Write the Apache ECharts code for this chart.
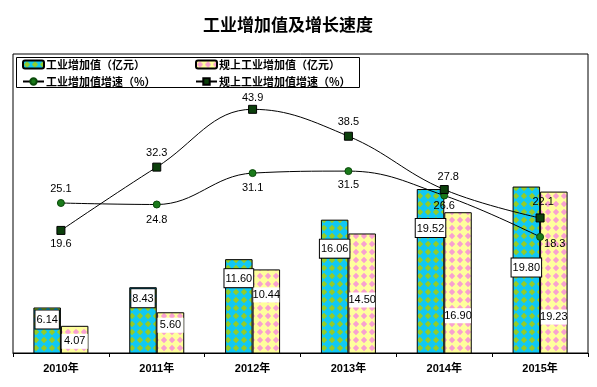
<!DOCTYPE html>
<html>
<head>
<meta charset="utf-8">
<script src="https://cdn.jsdelivr.net/npm/echarts@6/dist/echarts.min.js"></script>
<style>html,body{margin:0;padding:0;background:#fff}#c{width:597px;height:387px}</style>
</head>
<body>
<div id="c"></div>
<script>
// ---- data ----
const categories = ['2010年', '2011年', '2012年', '2013年', '2014年', '2015年'];
const industryValue = [6.14, 8.43, 11.60, 16.06, 19.52, 19.80];      // 工业增加值（亿元）
const aboveScaleValue = [4.07, 5.60, 10.44, 14.50, 16.90, 19.23];    // 规上工业增加值（亿元）
const industryGrowth = [25.1, 24.8, 31.1, 31.5, 26.6, 18.3];         // 工业增加值增速（%）
const aboveScaleGrowth = [19.6, 32.3, 43.9, 38.5, 27.8, 22.1];       // 规上工业增加值增速（%）
const seriesNames = ['工业增加值（亿元）', '规上工业增加值（亿元）', '工业增加值增速（%）', '规上工业增加值增速（%）'];

// ---- label placement (layout only) ----
const blueLabelDrop = [13, 12, 20, 30, 40, 82];   // px from bar top to label centre
const pinkLabelDrop = [16, 13.5, 26, 67, 104, 126];
const circleLabelPlace = [['top', 5, 0, 0], ['bottom', 6, 0, 0], ['bottom', 5, 0, 0], ['bottom', 4, 0, 0], ['bottom', 1, 0, 0], ['right', 0, 0, 7]];
const squareLabelPlace = [['bottom', 4, 0, 0], ['top', 4, 0, 0], ['top', 1, 0, 0], ['top', 4, 0, 0], ['top', 3, 4, 0], ['top', 6, 3, 0]];

function makeTile(bg, fg) {
  const c = document.createElement('canvas');
  c.width = 8; c.height = 8;
  const ctx = c.getContext('2d');
  ctx.fillStyle = bg; ctx.fillRect(0, 0, 8, 8);
  ctx.fillStyle = fg;
  ctx.beginPath();
  ctx.moveTo(4, 0.8); ctx.lineTo(7.2, 4); ctx.lineTo(4, 7.2); ctx.lineTo(0.8, 4); ctx.closePath();
  ctx.fill();
  return c;
}
const bluePattern = { image: makeTile('#10c8f4', '#94cc28'), repeat: 'repeat' };
const pinkPattern = { image: makeTile('#ffff9c', '#f8a0d0'), repeat: 'repeat' };

const numFont = 'Arial, "Liberation Sans", sans-serif';
const cjkFont = '"Noto Sans CJK SC", sans-serif';

const blueData = industryValue.map((v, i) => ({
  value: v,
  label: { offset: [0, blueLabelDrop[i] - 10] }
}));
const pinkData = aboveScaleValue.map((v, i) => ({
  value: v,
  label: { offset: [0, pinkLabelDrop[i] - 8] }
}));
function lineData(vals, place) {
  return vals.map((v, i) => ({
    value: v,
    label: { position: place[i][0], distance: place[i][1], offset: [place[i][2], place[i][3]] }
  }));
}

const chart = echarts.init(document.getElementById('c'), null, { renderer: 'canvas' });
chart.setOption({
  animation: false,
  backgroundColor: '#fff',
  title: {
    text: '工业增加值及增长速度',
    left: 203, top: 16, padding: 0,
    textStyle: { fontFamily: cjkFont, fontSize: 17, fontWeight: 'bold', color: '#000' }
  },
  graphic: [{
    type: 'rect', z: 3,
    shape: { x: 16.5, y: 57.5, width: 343, height: 30 },
    style: { fill: '#fff', stroke: '#000', lineWidth: 1 }
  }],
  legend: [{
    orient: 'vertical', left: 22, top: 59, padding: 0, itemGap: 6,
    itemWidth: 21, itemHeight: 8,
    data: [seriesNames[0], seriesNames[2]],
    textStyle: { fontFamily: cjkFont, fontSize: 11, fontWeight: 'bold', color: '#000', padding: [0, 0, 0, -3] }
  }, {
    orient: 'vertical', left: 195, top: 59, padding: 0, itemGap: 6,
    itemWidth: 21, itemHeight: 8,
    data: [seriesNames[1], seriesNames[3]],
    textStyle: { fontFamily: cjkFont, fontSize: 11, fontWeight: 'bold', color: '#000', padding: [0, 0, 0, -3] }
  }],
  grid: {
    left: 13, right: 9, top: 54, bottom: 34,
    show: true, borderColor: '#000', borderWidth: 1
  },
  xAxis: {
    type: 'category', data: categories,
    axisLine: { onZero: false, lineStyle: { color: '#000', width: 1 } },
    axisTick: { show: true, length: 4, lineStyle: { color: '#000' } },
    axisLabel: { margin: 10, color: '#000', fontFamily: 'Arial, "Liberation Sans", "Noto Sans CJK SC", sans-serif', fontSize: 11, fontWeight: 'bold' }
  },
  yAxis: [
    { type: 'value', min: 1, max: 34.77, show: false, splitLine: { show: false } },
    { type: 'value', min: -5, max: 55, show: false, splitLine: { show: false } }
  ],
  series: [{
    name: seriesNames[0], type: 'bar', yAxisIndex: 0,
    data: blueData, barWidth: 27.5, barGap: '0%',
    itemStyle: { color: bluePattern, borderColor: '#000', borderWidth: 1 },
    label: {
      show: true, position: 'insideTop', distance: 0,
      formatter: p => p.value.toFixed(2),
      fontFamily: numFont, fontSize: 11, color: '#000', lineHeight: 13,
      backgroundColor: '#fff', borderColor: '#000', borderWidth: 1, padding: [3, 1, 2, 1]
    }
  }, {
    name: seriesNames[1], type: 'bar', yAxisIndex: 0,
    data: pinkData, barWidth: 27.5, barGap: '0%',
    itemStyle: { color: pinkPattern, borderColor: '#000', borderWidth: 1 },
    label: {
      show: true, position: 'insideTop', distance: 0,
      formatter: p => p.value.toFixed(2),
      fontFamily: numFont, fontSize: 11, color: '#000', lineHeight: 13,
      backgroundColor: '#fff', width: 22, align: 'center', padding: [1, 2, 1, 2]
    }
  }, {
    name: seriesNames[2], type: 'line', yAxisIndex: 1, z: 5,
    data: lineData(industryGrowth, circleLabelPlace), smooth: 0.4,
    symbol: 'circle', symbolSize: 7,
    lineStyle: { color: '#000', width: 1 },
    itemStyle: { color: '#1a7a1a', borderColor: '#0a4a0a', borderWidth: 1 },
    label: { show: true, fontFamily: numFont, fontSize: 11, color: '#000', formatter: p => p.value.toFixed(1) }
  }, {
    name: seriesNames[3], type: 'line', yAxisIndex: 1, z: 5,
    data: lineData(aboveScaleGrowth, squareLabelPlace), smooth: 0.4,
    symbol: 'rect', symbolSize: 8,
    lineStyle: { color: '#000', width: 1 },
    itemStyle: { color: '#0c400c', borderColor: '#000', borderWidth: 1 },
    label: { show: true, fontFamily: numFont, fontSize: 11, color: '#000', formatter: p => p.value.toFixed(1) }
  }]
});
</script>
</body>
</html>
